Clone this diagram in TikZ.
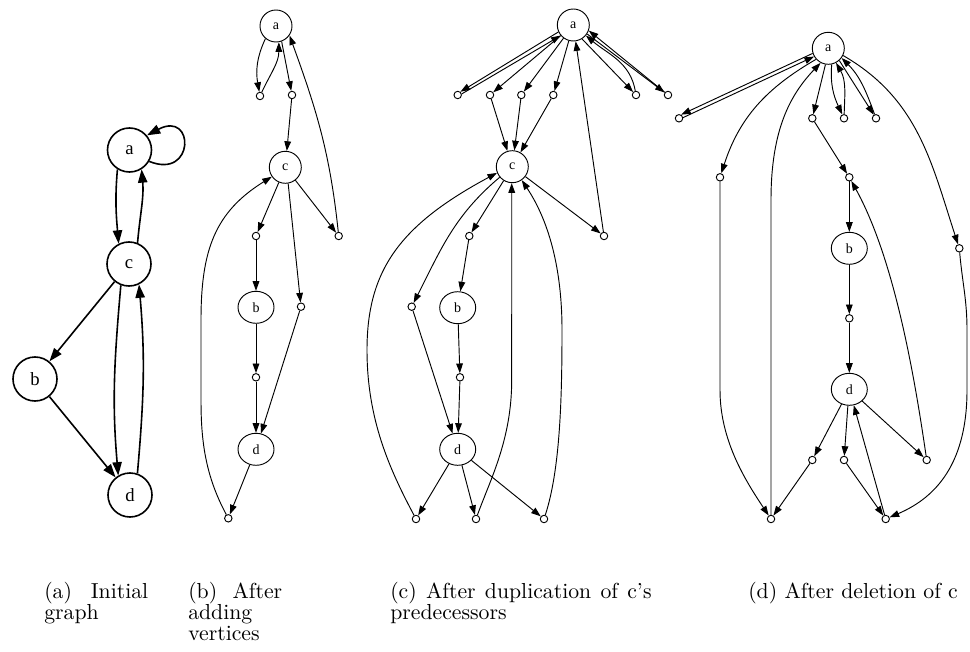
\documentclass[tikz,border=0pt]{standalone}
\usepackage{fontspec}
\usetikzlibrary{arrows.meta,shapes.geometric}
\newfontfamily\tms{Liberation Serif}
\newfontfamily\capfont{lmroman10-regular.otf}[Ligatures=TeX]
\hyphenpenalty=10000
\exhyphenpenalty=10000
\tolerance=9999
\hbadness=10000
\tikzset{
  bignode/.style={circle,draw,line width=1.2pt,minimum size=33pt,inner sep=0pt,font=\tms\fontsize{14}{14}\selectfont},
  cnode/.style={circle,draw,line width=0.7pt,minimum size=24pt,inner sep=0pt,font=\tms\fontsize{10.5}{10.5}\selectfont},
  enode/.style={ellipse,draw,line width=0.7pt,minimum width=27pt,minimum height=24pt,inner sep=0pt,font=\tms\fontsize{10.5}{10.5}\selectfont},
  snode/.style={circle,draw,line width=0.7pt,minimum size=5.6pt,inner sep=0pt},
  arr/.style={-{Triangle[length=7.2pt,width=5pt]},line width=0.7pt},
  bigarr/.style={-{Triangle[length=10pt,width=7pt]},line width=1.2pt},
  captext/.style={anchor=base west,inner sep=0pt,align=justify,font=\capfont\fontsize{16.3}{15.75}\selectfont}
}
\begin{document}
\begin{tikzpicture}[x=0.75pt,y=-0.75pt]
\useasboundingbox (0,0) rectangle (970,652);

% ---------- (a)
\node[bignode] (A1) at (129.5,150) {a};
\node[bignode] (C1) at (129,264) {c};
\node[bignode] (B1) at (35,379) {b};
\node[bignode] (D1) at (130,495) {d};
\draw[bigarr] (A1.-30) .. controls (195,180) and (195,110) .. (A1.40);
\draw[bigarr] (A1.-122) to[out=-95,in=95] (C1.117);
\draw[bigarr] (C1.68) to[out=85,in=-85] (A1.-58);
\draw[bigarr] (C1) -- (B1);
\draw[bigarr] (B1) -- (D1);
\draw[bigarr] (C1.-111) to[out=-95,in=95] (D1.121);
\draw[bigarr] (D1.71) to[out=85,in=-85] (C1.-64);

% ---------- (b)
\node[cnode] (Ab) at (276,26) {a};
\node[snode] (L1) at (260,96) {};
\node[snode] (L2) at (292,95) {};
\node[cnode] (Cb) at (285.3,167.3) {c};
\node[snode] (LL) at (256,236) {};
\node[snode] (R) at (338.7,236) {};
\node[enode] (Bb) at (256,307.3) {b};
\node[snode] (Rb) at (301,306.7) {};
\node[snode] (Mb) at (256,377.3) {};
\node[enode] (Db) at (256,449.3) {d};
\node[snode] (Zb) at (228.3,518.3) {};
\draw[arr] (Ab.-130) to[out=-115,in=100] (L1);
\draw[arr] (L1) to[out=65,in=-90] (Ab.-80);
\draw[arr] (Ab.-70) -- (L2);
\draw[arr] (L2) -- (Cb);
\draw[arr] (R) to[out=96,in=-70] (Ab.-35);
\draw[arr] (Cb) -- (R);
\draw[arr] (Cb) -- (LL);
\draw[arr] (LL) -- (Bb);
\draw[arr] (Cb.-80) -- (Rb);
\draw[arr] (Bb) -- (Mb);
\draw[arr] (Mb) -- (Db);
\draw[arr] (Rb) -- (Db);
\draw[arr] (Db) -- (Zb);
\draw[arr] (Zb) .. controls (205,475) and (201,440) .. (201,400) -- (201,320) .. controls (201,250) and (215,212) .. (Cb.-145);

% ---------- (c)
\node[cnode] (Ac) at (573.3,25) {a};
\node[snode] (P1) at (457.7,95) {};
\node[snode] (P2) at (490,95) {};
\node[snode] (P3) at (521.3,95) {};
\node[snode] (P4) at (553.3,95) {};
\node[snode] (P5) at (636,95) {};
\node[snode] (P6) at (668,95) {};
\node[cnode] (Cc) at (512.3,166.7) {c};
\node[snode] (Q1) at (469.3,236) {};
\node[snode] (Q2) at (604,236) {};
\node[snode] (Q3) at (411.7,306.7) {};
\node[enode] (Bc) at (457.7,307.7) {b};
\node[snode] (Q4) at (460,377.3) {};
\node[enode] (Dc) at (457.7,449.3) {d};
\node[snode] (Z1) at (416,519) {};
\node[snode] (Z2) at (476,519) {};
\node[snode] (Z3) at (544,519) {};
\draw[arr] (Ac.-155) -- (P1.50);
\draw[arr] (P1.15) -- (Ac.-140);
\draw[arr] (Ac) -- (P2);
\draw[arr] (Ac) -- (P3);
\draw[arr] (Ac) -- (P4);
\draw[arr] (Ac.-58) -- (P5);
\draw[arr] (P5) to[out=100,in=-40] (Ac.-40);
\draw[arr] (Ac.-33) -- (P6);
\draw[arr] (P6) -- (Ac.-20);
\draw[arr] (P2) -- (Cc);
\draw[arr] (P3) -- (Cc);
\draw[arr] (P4) -- (Cc);
\draw[arr] (Cc.-140) to[out=-140,in=63] (Q3);
\draw[arr] (Cc) -- (Q1);
\draw[arr] (Q1) -- (Bc);
\draw[arr] (Bc) -- (Q4);
\draw[arr] (Q4) -- (Dc);
\draw[arr] (Q3) -- (Dc);
\draw[arr] (Dc) -- (Z1);
\draw[arr] (Dc) -- (Z2);
\draw[arr] (Dc) -- (Z3);
\draw[arr] (Z1) .. controls (390,470) and (367,420) .. (367,350) .. controls (367,270) and (400,225) .. (Cc.-158);
\draw[arr] (Z2) .. controls (490,480) and (511.7,440) .. (511.7,380) -- (Cc.-92);
\draw[arr] (Z3) .. controls (560,470) and (562,400) .. (562,330) .. controls (562,260) and (545,215) .. (Cc.-55);
\draw[arr] (Cc) -- (Q2);
\draw[arr] (Q2) -- (Ac);

% ---------- (d)
\node[cnode] (Ad) at (828.3,48.3) {a};
\node[snode] (E0) at (679,118.3) {};
\node[snode] (E1) at (720,177.3) {};
\node[snode] (E2) at (812.3,118.3) {};
\node[snode] (E3) at (844,118.3) {};
\node[snode] (E4) at (876,118.3) {};
\node[snode] (E5) at (849.3,177.3) {};
\node[enode] (Bd) at (849.3,248.3) {b};
\node[snode] (E6) at (849.3,318.3) {};
\node[enode] (Dd) at (849.3,389.3) {d};
\node[snode] (E7) at (812.3,460) {};
\node[snode] (E8) at (844,460) {};
\node[snode] (E9) at (926.7,460) {};
\node[snode] (E10) at (959.3,248.3) {};
\node[snode] (Y1) at (771,519) {};
\node[snode] (Y2) at (885.7,519) {};
\draw[arr] (Ad.-162) -- (E0.60);
\draw[arr] (E0.10) -- (Ad.-150);
\draw[arr] (Ad.-138) to[out=-150,in=72] (E1);
\draw[arr] (Y1) -- (771,200) .. controls (771,130) and (790,95) .. (Ad.-118);
\draw[arr] (E1) -- (720,390) .. controls (720,440) and (745,480) .. (Y1);
\draw[arr] (Ad.-100) -- (E2);
\draw[arr] (Ad.-78) to[out=-95,in=115] (E3);
\draw[arr] (E3) to[out=88,in=-60] (Ad.-62);
\draw[arr] (Ad.-48) -- (E4);
\draw[arr] (E4) to[out=110,in=-45] (Ad.-36);
\draw[arr] (Ad.-26) to[out=-30,in=108] (E10);
\draw[arr] (E2) -- (E5);
\draw[arr] (E5) -- (Bd);
\draw[arr] (Bd) -- (E6);
\draw[arr] (E6) -- (Dd);
\draw[arr] (E9) .. controls (915,380) and (895,260) .. (E5);
\draw[arr] (Dd) -- (E9);
\draw[arr] (Dd) -- (E7);
\draw[arr] (Dd.-95) -- (E8);
\draw[arr] (E8) -- (Y2);
\draw[arr] (Y2) -- (Dd);
\draw[arr] (E7) -- (Y1);
\draw[arr] (E10) to[out=-85,in=90] (967,330) -- (967,390) .. controls (967,470) and (930,500) .. (Y2);

% ---------- captions
\node[captext,text width=78pt] (capA) at (44,598) {(a) Initial graph};
\node[captext,text width=70.5pt] (capB) at (188,598) {(b) After adding vertices};
\node[captext,text width=196pt] (capC) at (390,598) {(c) After duplication of c's predecessors};
\node[captext,text width=165pt] (capD) at (748,598) {(d) After deletion of c};
\end{tikzpicture}
\end{document}
